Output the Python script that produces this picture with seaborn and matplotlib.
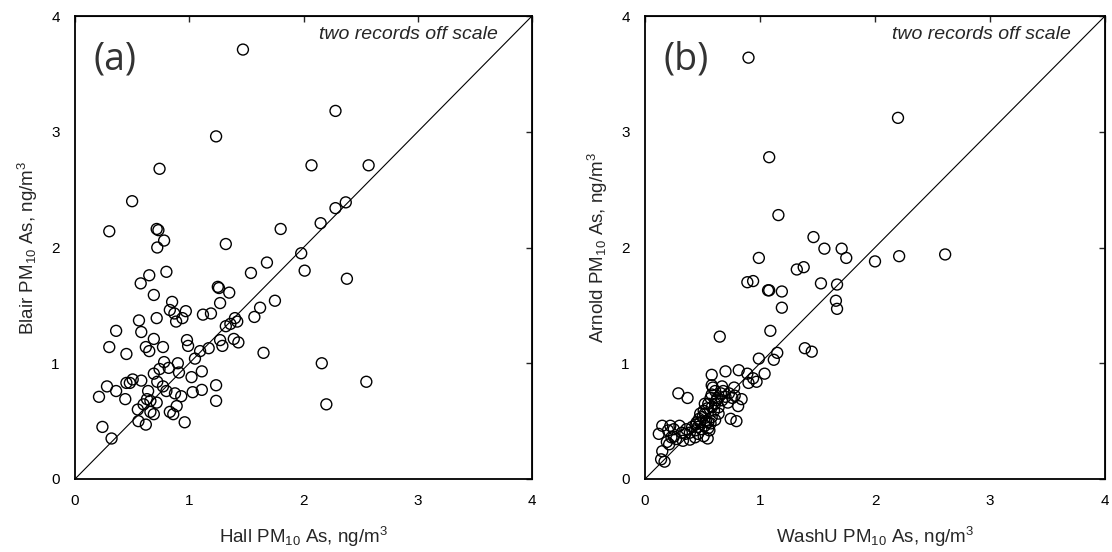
import matplotlib
matplotlib.use("Agg")
import matplotlib.pyplot as plt
import seaborn as sns
import numpy as np
import pandas as pd

# ---------------- data ----------------
hall_x = [1.47, 2.28, 1.235, 2.07, 2.57, 0.74, 0.50, 2.28, 2.37, 0.30, 0.715, 0.73, 1.80, 2.15,
          0.78, 0.72, 1.32, 1.98, 2.01, 1.68, 1.54, 2.38, 0.80, 0.65, 0.575, 0.69, 1.25, 1.26,
          1.35, 1.75, 1.27, 1.62, 1.57, 0.85, 0.83, 0.87, 0.97, 0.94, 0.885, 0.715, 0.56, 1.12,
          1.19, 1.40, 1.42, 1.32, 1.36, 0.36, 0.58, 0.30, 0.62, 0.69, 0.65, 0.77, 0.45, 0.98,
          0.99, 1.27, 1.29, 1.39, 1.43, 1.17, 1.095, 1.05, 1.65, 2.16, 0.90, 0.78, 0.74, 0.82,
          0.91, 1.11, 1.02, 0.69, 0.72, 0.58, 0.505, 0.45, 0.48, 0.28, 0.36, 0.21, 0.44, 0.77,
          0.80, 1.03, 1.11, 1.235, 2.55, 0.875, 0.93, 0.63, 0.66, 0.60, 0.715, 1.235, 0.55,
          0.66, 0.69, 0.83, 0.86, 0.89, 2.20, 0.24, 0.555, 0.62, 0.96, 0.32, 0.64]
blair_y = [3.71, 3.18, 2.96, 2.71, 2.71, 2.68, 2.40, 2.34, 2.39, 2.14, 2.16, 2.15, 2.16, 2.21,
           2.06, 2.00, 2.03, 1.95, 1.80, 1.87, 1.78, 1.73, 1.79, 1.76, 1.69, 1.59, 1.66, 1.65,
           1.61, 1.54, 1.52, 1.48, 1.40, 1.53, 1.46, 1.43, 1.45, 1.39, 1.36, 1.39, 1.37, 1.42,
           1.43, 1.39, 1.36, 1.32, 1.34, 1.28, 1.27, 1.14, 1.14, 1.21, 1.105, 1.14, 1.08, 1.20,
           1.15, 1.20, 1.15, 1.21, 1.18, 1.13, 1.105, 1.04, 1.09, 1.00, 1.00, 1.01, 0.95, 0.96,
           0.92, 0.93, 0.88, 0.91, 0.84, 0.85, 0.86, 0.83, 0.83, 0.80, 0.76, 0.71, 0.69, 0.80,
           0.76, 0.75, 0.77, 0.81, 0.84, 0.74, 0.715, 0.69, 0.675, 0.645, 0.66, 0.675, 0.60,
           0.58, 0.56, 0.58, 0.56, 0.63, 0.645, 0.45, 0.50, 0.47, 0.49, 0.35, 0.76]

washu_x = [0.90, 2.20, 1.08, 1.16, 1.465, 1.56, 1.71, 1.75, 0.99, 2.00, 2.21, 2.61, 1.32, 1.38,
           0.89, 0.94, 1.07, 1.08, 1.19, 1.53, 1.67, 1.66, 1.67, 1.19, 1.09, 0.65, 1.39, 1.45,
           1.15, 1.12, 0.99, 1.04, 0.815, 0.70, 0.58, 0.89, 0.94, 0.97, 0.90, 0.29, 0.37, 0.775,
           0.84, 0.81, 0.745, 0.795, 0.545, 0.12, 0.15, 0.22, 0.30, 0.19, 0.15, 0.14, 0.17, 0.25,
           0.58, 0.61, 0.67, 0.73, 0.35, 0.39, 0.435, 0.46, 0.48, 0.50, 0.52, 0.54, 0.55, 0.57,
           0.58, 0.49, 0.52, 0.55, 0.58, 0.60, 0.61, 0.63, 0.64, 0.435, 0.39, 0.33, 0.27, 0.46,
           0.51, 0.41, 0.45, 0.55, 0.58, 0.52, 0.64, 0.67, 0.70, 0.66, 0.51, 0.48, 0.61, 0.56,
           0.32, 0.36, 0.23, 0.21, 0.53, 0.57, 0.62, 0.68, 0.47, 0.44, 0.59, 0.72, 0.76, 0.78,
           0.25, 0.20]
arnold_y = [3.64, 3.12, 2.78, 2.28, 2.09, 1.99, 1.99, 1.91, 1.91, 1.88, 1.925, 1.94, 1.81, 1.83,
            1.70, 1.71, 1.63, 1.63, 1.62, 1.69, 1.68, 1.54, 1.47, 1.48, 1.28, 1.23, 1.13, 1.10,
            1.09, 1.03, 1.04, 0.91, 0.94, 0.93, 0.90, 0.91, 0.87, 0.84, 0.83, 0.74, 0.70, 0.79,
            0.69, 0.63, 0.52, 0.50, 0.35, 0.39, 0.46, 0.46, 0.46, 0.32, 0.24, 0.17, 0.15, 0.365,
            0.81, 0.76, 0.80, 0.74, 0.39, 0.40, 0.42, 0.45, 0.49, 0.535, 0.565, 0.61, 0.65, 0.70,
            0.73, 0.43, 0.46, 0.49, 0.535, 0.59, 0.65, 0.70, 0.565, 0.36, 0.34, 0.33, 0.345, 0.39,
            0.37, 0.45, 0.49, 0.44, 0.62, 0.65, 0.62, 0.68, 0.71, 0.74, 0.59, 0.565, 0.51, 0.42,
            0.40, 0.43, 0.36, 0.30, 0.50, 0.48, 0.68, 0.76, 0.52, 0.47, 0.79, 0.66, 0.70, 0.72,
            0.43, 0.42]

ticks = [0, 1, 2, 3, 4]
panel_labels = ["(a)", "(b)"]
xlabels = ["Hall PM$_{10}$ As, ng/m$^3$", "WashU PM$_{10}$ As, ng/m$^3$"]
ylabels = ["Blair PM$_{10}$ As, ng/m$^3$", "Arnold PM$_{10}$ As, ng/m$^3$"]
note = "two records off scale"

# ---------------- style ----------------
sns.set_style("white")
plt.rcParams["font.family"] = ["Liberation Sans", "DejaVu Sans"]
plt.rcParams["mathtext.fontset"] = "custom"
plt.rcParams["mathtext.rm"] = "Liberation Sans"
plt.rcParams["mathtext.it"] = "Liberation Sans:italic"
plt.rcParams["mathtext.bf"] = "Liberation Sans:bold"

fig = plt.figure(figsize=(11.12, 5.52), dpi=100)
W, H = 1112, 552
ax1 = fig.add_axes([75 / W, 1 - 479 / H, 457 / W, 463 / H])
ax2 = fig.add_axes([645 / W, 1 - 479 / H, 460 / W, 463 / H])

datasets = [(hall_x, blair_y), (washu_x, arnold_y)]

for i, ax in enumerate([ax1, ax2]):
    xs, ys = datasets[i]
    df = pd.DataFrame({"x": xs, "y": ys})
    sns.scatterplot(data=df, x="x", y="y", ax=ax, marker="o", s=62,
                    facecolors="none", edgecolors="black", linewidth=1.0, zorder=3)
    ax.axline((0, 0), slope=1, color="black", lw=0.8, zorder=2)
    ax.set_xlim(0, 4)
    ax.set_ylim(0, 4)
    ax.set_xticks(ticks)
    ax.set_yticks(ticks)
    ax.tick_params(direction="out", length=4, width=1, pad=7, labelsize=11, colors="black")
    for sp in ax.spines.values():
        sp.set_color("black")
        sp.set_linewidth(1.3)
    secx = ax.secondary_xaxis("top")
    secx.set_xticks(ticks)
    secx.tick_params(direction="in", length=4, width=1, labeltop=False)
    secy = ax.secondary_yaxis("right")
    secy.set_yticks(ticks)
    secy.tick_params(direction="in", length=4, width=1, labelright=False)
    ax.set_xlabel(xlabels[i], fontsize=13.5, labelpad=12)
    ax.set_ylabel(ylabels[i], fontsize=13.5, labelpad=8)
    ax.text(0.16, 3.62, panel_labels[i], fontsize=27, family="Open Sans",
            ha="left", va="center", color="#333333")
    ax.text(3.70, 3.84, note, fontsize=14, style="italic", ha="right", va="center")

fig.savefig("out.png", dpi=100)
